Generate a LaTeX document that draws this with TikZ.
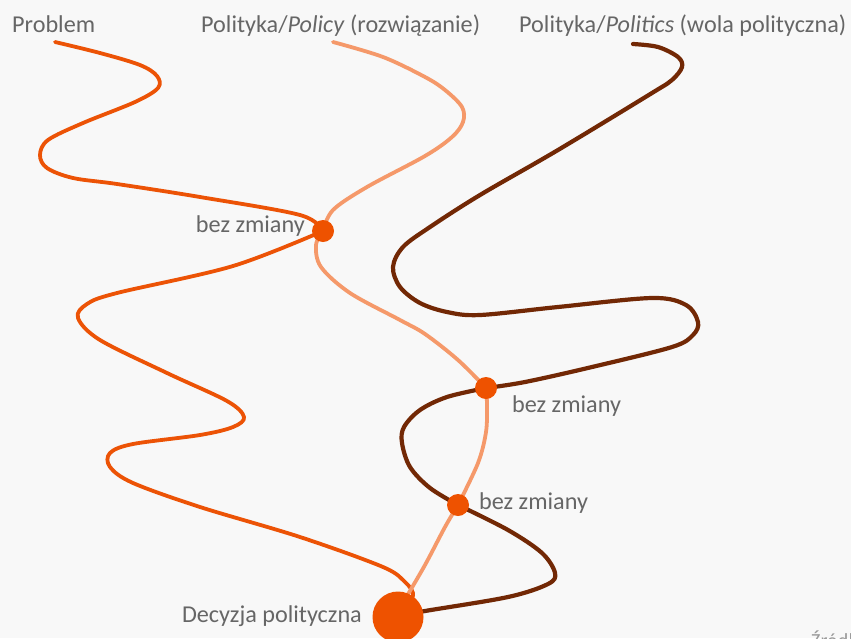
\documentclass[tikz,border=0pt]{standalone}
\usepackage{fontspec}
\setmainfont{Carlito}
\definecolor{bgc}{HTML}{F8F8F8}
\definecolor{txtgray}{HTML}{666666}
\definecolor{srcgray}{HTML}{9A9A9A}
\definecolor{probc}{HTML}{EC5306}
\definecolor{policyc}{HTML}{F5996A}
\definecolor{politicsc}{HTML}{722805}
\definecolor{dotc}{HTML}{EE5200}
\begin{document}
\begin{tikzpicture}[x=1pt,y=-1pt,
  lbl/.style={inner sep=0pt, text=txtgray, font=\fontsize{24.2}{28}\selectfont},
  srclbl/.style={inner sep=0pt, text=srcgray, font=\fontsize{20}{24}\selectfont},
  probline/.style={draw=probc, line width=3.8pt, line cap=round, line join=round},
  policyline/.style={draw=policyc, line width=3.8pt, line cap=round, line join=round},
  politicsline/.style={draw=politicsc, line width=4.2pt, line cap=round, line join=round},
  smalldot/.style={circle, fill=dotc, inner sep=0pt, minimum size=22pt},
  bigdot/.style={circle, fill=dotc, inner sep=0pt, minimum size=51pt},
  sm/.style={smooth, tension=0.55}]
\fill[bgc] (0,0) rectangle (851,638);
\useasboundingbox (0,0) rectangle (851,638);

% key points
\coordinate (pstart) at (55,42);
\coordinate (ystart) at (333,42);
\coordinate (tstart) at (633,44);
\coordinate (c1) at (323,231);
\coordinate (c2) at (486,388);
\coordinate (c3) at (458,505);
\coordinate (d0) at (398,617);
\coordinate (pend) at (411,600);
\coordinate (yend) at (404,601);
\coordinate (tend) at (412,614);

% Problem
\draw[probline] plot[sm] coordinates {(pstart) (100,53) (140,65) (157,76) (158,88) (135,102) (83,123) (48,140) (40,155) (47,168) (73,178) (117,184) (200,197) (300,215) (c1)};
\draw[probline] plot[sm] coordinates {(c1) (233,266) (117,293) (87,304) (78,318) (100,340) (167,373) (227,401) (244,417) (233,427) (200,435) (133,444) (110,453) (110,467) (133,483) (200,507) (300,537) (383,567) (405,582) (413,593) (pend)};

% Politics
\draw[politicsline] plot[sm] coordinates {(tstart) (658,47) (678,57) (682,67) (672,80) (652,93) (558,150) (480,195) (430,227) (403,247) (393,267) (400,287) (420,303) (447,312) (480,315) (558,307) (652,298) (686,305) (698,322) (693,335) (672,347) (592,367) (525,382) (c2)};
\draw[politicsline] plot[sm] coordinates {(c2) (447,397) (420,410) (404,427) (402,443) (410,467) (430,488) (c3)};
\draw[politicsline] plot[sm] coordinates {(c3) (508,530) (542,553) (555,573) (548,584) (508,597) (425,611) (tend)};

% Policy
\draw[policyline] plot[sm] coordinates {(ystart) (383,57) (425,77) (445,90) (462,107) (463,122) (452,137) (425,156) (367,187) (333,210) (c1)};
\draw[policyline] plot[sm] coordinates {(c1) (316,245) (321,267) (350,293) (400,320) (425,334) (458,360) (c2)};
\draw[policyline] plot[sm] coordinates {(c2) (487,405) (486,432) (478,463) (c3)};
\draw[policyline] plot[sm] coordinates {(c3) (445,527) (425,565) (yend)};

% dots
\node[smalldot] (n1) at (c1) {};
\node[smalldot] (n2) at (c2) {};
\node[smalldot] (n3) at (c3) {};
\node[bigdot] (n0) at (d0) {};

% labels
\node[lbl, anchor=base west] (tprob) at (12,32) {Problem};
\node[lbl, anchor=base west] (tpolicy) at (201,32) {Polityka/\textit{Policy} (rozwiązanie)};
\node[lbl, anchor=base west] (tpolitics) at (519,32) {Polityka/\textit{Politics} (wola polityczna)};
\node[lbl, anchor=base east] (l1) at (305,232) {bez zmiany};
\node[lbl, anchor=base west] (l2) at (512,412) {bez zmiany};
\node[lbl, anchor=base west] (l3) at (479,509) {bez zmiany};
\node[lbl, anchor=base east] (l0) at (362,622) {Decyzja polityczna};
\node[srclbl, anchor=base west] (src) at (811,647) {Źródło};
\end{tikzpicture}
\end{document}
